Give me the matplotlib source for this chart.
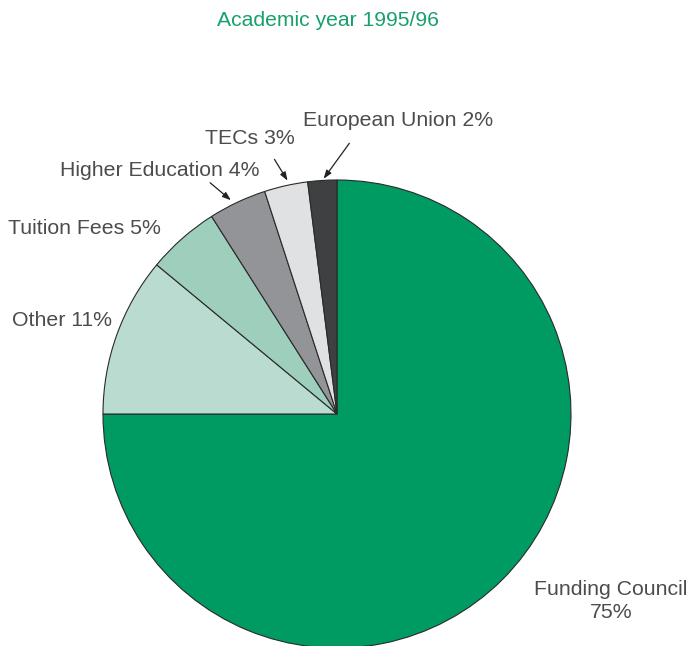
import matplotlib.pyplot as plt

# Income sources, academic year 1995/96
sources = ['Funding Council', 'Other', 'Tuition Fees', 'Higher Education', 'TECs', 'European Union']
shares = [75, 11, 5, 4, 3, 2]
colours = ['#009a63', '#badcd0', '#9ecfbc', '#929497', '#e0e1e3', '#3f4042']

plt.rcParams['font.family'] = ['Liberation Sans', 'DejaVu Sans']
text_col = '#4c4c4c'

fig = plt.figure(figsize=(6.91, 6.46), dpi=100)
ax = fig.add_axes([0, 0, 1, 1])

# pie drawn in pixel-like coordinates (y measured from the bottom)
ax.pie(shares, colors=colours, startangle=90, counterclock=False,
       center=(337, 232), radius=234,
       wedgeprops=dict(edgecolor='#2a2a2a', linewidth=0.8))
ax.set_xlim(0, 691)
ax.set_ylim(0, 646)
ax.set_aspect('equal')
ax.axis('off')

fig.text(0.475, 1 - 20 / 646, 'Academic year 1995/96', color='#17a06c',
         fontsize=15.2, ha='center', va='center')

fs = 15.3
lbl = dict(fontsize=fs, color=text_col, va='center')
arrow = dict(arrowstyle='-|>,head_length=0.5,head_width=0.18', color='#222222', lw=0.9)

ax.text(303, 646 - 121, f'{sources[5]} {shares[5]}%', ha='left', **lbl)
ax.annotate('', xy=(322, 646 - 181), xytext=(351, 646 - 141), arrowprops=arrow)

ax.text(250, 646 - 139, f'{sources[4]} {shares[4]}%', ha='center', **lbl)
ax.annotate('', xy=(289, 646 - 183), xytext=(273, 646 - 157), arrowprops=arrow)

ax.text(60, 646 - 170, f'{sources[3]} {shares[3]}%', ha='left', **lbl)
ax.annotate('', xy=(233, 646 - 202), xytext=(208, 646 - 181), arrowprops=arrow)

ax.text(8, 646 - 228, f'{sources[2]} {shares[2]}%', ha='left', **lbl)
ax.text(12, 646 - 320, f'{sources[1]} {shares[1]}%', ha='left', **lbl)
ax.text(611, 646 - 601, f'{sources[0]}\n{shares[0]}%', ha='center',
        linespacing=1.25, fontsize=fs, color=text_col, va='center')

fig.savefig('out.png', dpi=100)
